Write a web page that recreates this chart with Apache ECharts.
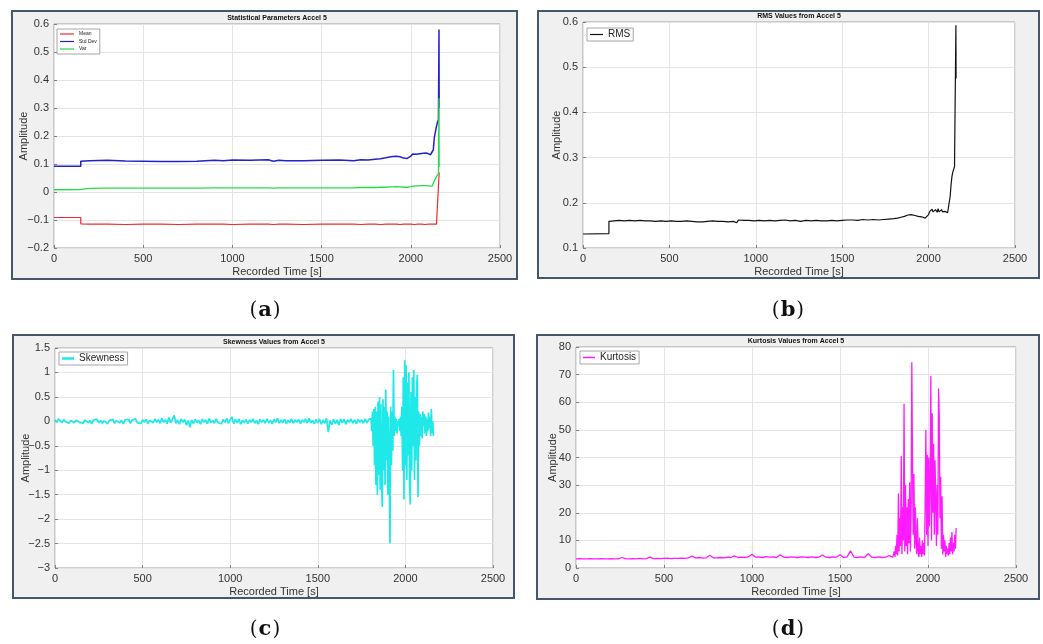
<!DOCTYPE html>
<html>
<head>
<meta charset="utf-8">
<script src="https://cdn.jsdelivr.net/npm/echarts@6/dist/echarts.min.js"></script>
<style>
  html, body { margin: 0; padding: 0; background: #ffffff; }
  #chart { width: 1043px; height: 644px; }
</style>
</head>
<body>
<div id="chart"></div>
<script>
// ---------- Statistical parameters (panel a) ----------
const statTime = [
  0, 150, 150, 200, 300, 400, 500, 600, 700, 800,
  900, 950, 1000, 1100, 1200, 1230, 1260, 1300, 1400, 1500,
  1600, 1680, 1720, 1760, 1800, 1830, 1860, 1880, 1900, 1910,
  1920, 1930, 1940, 1960, 1980, 1990, 2000, 2010, 2020, 2030,
  2040, 2050, 2060, 2070, 2080, 2090, 2100, 2110, 2120, 2126,
  2132, 2138, 2144, 2150, 2155, 2158, 2159
];
const meanVals = [
  -0.091, -0.091, -0.114, -0.115, -0.115, -0.116, -0.115, -0.115, -0.116, -0.115,
  -0.115, -0.115, -0.116, -0.115, -0.115, -0.116, -0.115, -0.115, -0.116, -0.115,
  -0.115, -0.115, -0.116, -0.115, -0.115, -0.116, -0.115, -0.115, -0.115, -0.116,
  -0.115, -0.115, -0.116, -0.115, -0.115, -0.116, -0.115, -0.115, -0.116, -0.115,
  -0.115, -0.116, -0.115, -0.115, -0.116, -0.115, -0.115, -0.116, -0.115, -0.115,
  -0.115, -0.116, -0.115, -0.115, -0.116, -0.115, 0.070
];
const stdVals = [
  0.092, 0.092, 0.110, 0.112, 0.113, 0.111, 0.110, 0.109, 0.109, 0.110,
  0.113, 0.112, 0.114, 0.113, 0.115, 0.110, 0.113, 0.112, 0.112, 0.113,
  0.114, 0.112, 0.115, 0.114, 0.117, 0.119, 0.122, 0.125, 0.127, 0.123,
  0.128, 0.124, 0.126, 0.121, 0.120, 0.124, 0.128, 0.136, 0.139, 0.135,
  0.142, 0.137, 0.143, 0.138, 0.144, 0.139, 0.140, 0.133, 0.134, 0.150,
  0.195, 0.215, 0.235, 0.250, 0.258, 0.580, 0.300
];
const varVals = [
  0.008, 0.009, 0.012, 0.013, 0.014, 0.014, 0.014, 0.014, 0.014, 0.014,
  0.015, 0.015, 0.015, 0.015, 0.015, 0.014, 0.015, 0.015, 0.015, 0.015,
  0.015, 0.015, 0.016, 0.016, 0.016, 0.017, 0.017, 0.018, 0.018, 0.018,
  0.019, 0.018, 0.018, 0.017, 0.017, 0.018, 0.019, 0.021, 0.022, 0.021,
  0.022, 0.021, 0.023, 0.022, 0.023, 0.022, 0.022, 0.020, 0.021, 0.028,
  0.040, 0.047, 0.055, 0.062, 0.066, 0.335, 0.090
];

// ---------- RMS (panel b) ----------
const rmsTime = [
  0, 150, 150, 180, 210, 240, 270, 300, 330, 360,
  390, 420, 450, 480, 510, 540, 570, 600, 630, 660,
  690, 720, 750, 780, 810, 840, 870, 890, 900, 930,
  960, 990, 1020, 1050, 1080, 1110, 1140, 1170, 1200, 1230,
  1260, 1290, 1320, 1350, 1380, 1410, 1440, 1470, 1500, 1530,
  1560, 1590, 1620, 1650, 1680, 1710, 1740, 1770, 1800, 1820,
  1840, 1860, 1870, 1880, 1890, 1900, 1910, 1920, 1930, 1940,
  1950, 1960, 1970, 1980, 1990, 2000, 2005, 2010, 2015, 2020,
  2025, 2030, 2035, 2040, 2045, 2050, 2055, 2060, 2065, 2070,
  2075, 2080, 2085, 2090, 2095, 2100, 2105, 2110, 2115, 2120,
  2125, 2130, 2135, 2140, 2145, 2150, 2155, 2158, 2159
];
const rmsVals = [
  0.131, 0.132, 0.159, 0.160, 0.161, 0.160, 0.161, 0.160, 0.161, 0.160,
  0.160, 0.159, 0.160, 0.159, 0.160, 0.159, 0.159, 0.160, 0.159, 0.158,
  0.158, 0.159, 0.160, 0.159, 0.159, 0.158, 0.159, 0.156, 0.162, 0.161,
  0.161, 0.160, 0.161, 0.160, 0.161, 0.160, 0.161, 0.162, 0.160, 0.161,
  0.159, 0.161, 0.160, 0.161, 0.160, 0.160, 0.161, 0.160, 0.161, 0.162,
  0.162, 0.161, 0.163, 0.162, 0.163, 0.162, 0.163, 0.164, 0.165, 0.166,
  0.168, 0.170, 0.169, 0.173, 0.171, 0.174, 0.170, 0.172, 0.171, 0.170,
  0.168, 0.169, 0.167, 0.166, 0.170, 0.174, 0.180, 0.184, 0.178, 0.186,
  0.180, 0.182, 0.177, 0.185, 0.181, 0.179, 0.187, 0.180, 0.183, 0.178,
  0.185, 0.180, 0.182, 0.177, 0.181, 0.179, 0.183, 0.178, 0.180, 0.177,
  0.215, 0.240, 0.258, 0.268, 0.272, 0.280, 0.282, 0.593, 0.475
];

// ---------- Skewness (panel c): steady run sampled every 10 s, burst every 4 s ----------
const skewSteadyStart = 0, skewSteadyStep = 10;
const skewSteady = [
  0.03, -0.02, 0.05, 0.01, -0.03, 0.04, -0.01, 0.03, -0.04, 0.02,
  0.04, -0.03, 0.02, 0.05, -0.02, 0.01, -0.04, 0.03, 0.00, -0.03,
  0.02, -0.05, 0.03, -0.01, 0.04, -0.03, 0.02, -0.04, 0.01, 0.03,
  -0.05, 0.02, -0.02, 0.04, -0.04, 0.01, 0.03, -0.03, 0.02, -0.05,
  0.03, -0.01, 0.04, -0.04, 0.02, -0.02, 0.05, -0.03, 0.01, -0.04,
  0.03, -0.02, 0.04, -0.05, 0.02, 0.00, -0.03, 0.05, -0.02, 0.03,
  -0.04, 0.06, -0.02, 0.03, -0.05, 0.08, -0.03, 0.04, 0.12, -0.04,
  0.03, -0.06, 0.05, -0.02, 0.04, -0.08, 0.02, -0.12, 0.03, -0.05,
  0.04, -0.03, 0.02, -0.06, 0.05, -0.02, 0.03, -0.05, 0.06, -0.03,
  0.02, -0.04, 0.05, -0.03, 0.01, -0.05, 0.04, -0.02, 0.06, -0.04,
  0.03, 0.09, -0.05, 0.04, -0.03, 0.05, -0.06, 0.02, -0.03, 0.04,
  -0.05, 0.03, -0.02, 0.05, -0.04, 0.02, -0.06, 0.04, -0.02, 0.03,
  -0.04, 0.05, -0.03, 0.02, -0.05, 0.04, -0.02, 0.06, -0.04, 0.03,
  -0.03, 0.04, -0.05, 0.02, -0.03, 0.05, -0.04, 0.03, -0.02, 0.04,
  -0.05, 0.03, -0.02, 0.05, -0.04, 0.06, -0.03, 0.02, -0.05, 0.04,
  -0.03, 0.05, -0.06, 0.03, -0.04, 0.06, -0.22, 0.02, -0.07, 0.04,
  -0.05, 0.03, -0.08, 0.05, -0.03, 0.04, -0.06, 0.03, -0.02, 0.05,
  -0.04, 0.03, -0.05, 0.04, -0.02, 0.03, -0.04, 0.05, -0.03, 0.04,
  0.02
];
const skewBurstStart = 1804, skewBurstStep = 4;
const skewBurst = [
  0.05, -0.2, 0.2, -0.5, 0.25, -0.9, 0.3, -1.3, 0.2, -1.5,
  0.4, -1.1, 0.5, -1.4, 0.35, -1.2, -1.75, 0.45, -1.0, 0.3,
  -1.3, 0.65, -0.8, 0.2, -1.5, 0.1, -1.1, -2.5, 0.3, -0.9,
  0.2, -0.6, 1.05, -0.3, 0.1, -0.2, 0.05, -0.25, 0.0, -0.1,
  0.05, -0.2, 0.1, -0.3, 0.3, -1.0, 0.9, -1.6, 1.25, -0.9,
  1.15, -1.2, 0.8, -0.7, 1.0, -1.3, -1.7, 0.6, -1.0, 0.9,
  -0.5, 1.05, -1.2, 0.5, -0.8, 0.7, 0.95, -1.55, 0.2, -0.5,
  0.15, -0.3, 0.1, -0.35, 0.2, -0.1, 0.15, -0.25, 0.1, -0.3,
  0.05, -0.2, 0.18, -0.15, 0.1, -0.3, 0.25, -0.25, 0.0, -0.3
];

// ---------- Kurtosis (panel d): steady run sampled every 20 s, burst every 4 s ----------
const kurtSteadyStart = 0, kurtSteadyStep = 20;
const kurtSteady = [
  3.3, 3.4, 3.3, 3.3, 3.4, 3.3, 3.3, 3.4, 3.3, 3.3,
  3.4, 3.3, 3.3, 3.8, 3.4, 3.3, 3.4, 3.3, 3.5, 3.3,
  3.4, 3.9, 3.4, 3.5, 3.4, 3.5, 3.6, 3.4, 3.5, 3.5,
  3.6, 3.5, 3.7, 4.3, 3.6, 3.8, 3.6, 3.7, 4.6, 3.7,
  3.7, 3.8, 3.7, 3.9, 3.8, 4.4, 3.8, 3.9, 3.8, 4.0,
  5.0, 3.9, 4.0, 3.8, 4.1, 3.9, 4.0, 3.8, 4.8, 3.9,
  3.8, 4.0, 3.9, 3.8, 4.0, 3.9, 3.8, 4.0, 3.8, 3.9,
  4.7, 3.9, 3.8, 4.0, 3.9, 4.8, 3.8, 4.0, 6.2, 3.9,
  3.8, 4.0, 3.8, 5.2, 3.9, 3.8, 4.0, 3.8, 3.9, 4.5,
  3.9
];
const kurtBurstStart = 1804, kurtBurstStep = 4;
const kurtBurst = [
  4.5, 6, 4, 8, 5, 12, 4.5, 27, 6, 18,
  8, 40.5, 5, 22, 10, 59.5, 6, 30, 8, 22,
  5, 25, 9, 31, 6, 20, 74.5, 37.5, 12, 34,
  7, 22, 10, 5, 18, 6, 4, 11, 5, 8,
  4, 10, 5, 9, 4.5, 24, 50, 12, 41, 8,
  40, 15, 30, 69.5, 10, 56, 20, 45, 12, 39,
  25, 8, 30, 12, 65, 55, 18, 33, 7, 26,
  5, 12, 6, 10, 4, 8, 5, 7, 4.5, 9,
  5, 11, 6, 13, 5, 9, 6, 12, 7, 14.5
];

// ---------- text ----------
const panelTitles = [
  'Statistical Parameters Accel 5',
  'RMS Values from Accel 5',
  'Skewness Values from Accel 5',
  'Kurtosis Values from Accel 5'
];
const panelLetters = ['a', 'b', 'c', 'd'];
const xName = 'Recorded Time [s]';
const yName = 'Amplitude';

// ---------- helpers ----------
const zip = (xs, ys) => xs.map((x, i) => [x, ys[i]]);
const sampled = (start, step, ys) => ys.map((y, i) => [start + i * step, y]);

const FONT = '"Liberation Sans", Arial, Helvetica, sans-serif';
const SERIF = '"DejaVu Serif", "Liberation Serif", serif';
const tickFmt = v => String(+v.toFixed(2)).replace('-', '\u2212');

// plot rectangles and surrounding frames
const grids = [
  { left: 54, top: 24, width: 446, height: 224 },
  { left: 583, top: 22, width: 432, height: 226 },
  { left: 55, top: 348, width: 438, height: 220 },
  { left: 576, top: 347, width: 440, height: 221 }
];
const frames = [
  { x: 12, y: 11, width: 505, height: 268 },
  { x: 538, y: 11, width: 501, height: 267 },
  { x: 13, y: 335, width: 501, height: 263 },
  { x: 537, y: 335, width: 502, height: 264 }
];
const yRanges = [
  { min: -0.2, max: 0.6, interval: 0.1 },
  { min: 0.1, max: 0.6, interval: 0.1 },
  { min: -3, max: 1.5, interval: 0.5 },
  { min: 0, max: 80, interval: 10 }
];
const yNameGaps = [25, 21, 24, 18];
const xNameGaps = [18, 18, 18, 18];

const splitStyle = { show: true, lineStyle: { color: '#e4e4e4', width: 1 } };
const tickStyle = { show: true, inside: true, length: 3, lineStyle: { color: '#808080' } };

const xAxes = grids.map((g, i) => ({
  type: 'value', gridIndex: i, min: 0, max: 2500, interval: 500,
  name: xName, nameLocation: 'middle', nameGap: xNameGaps[i], nameMoveOverlap: false,
  nameTextStyle: { fontFamily: FONT, fontSize: 11, color: '#333' },
  axisLine: { show: false, onZero: false },
  axisTick: tickStyle,
  axisLabel: { fontFamily: FONT, fontSize: 11, color: '#333', margin: 5, formatter: v => String(v) },
  splitLine: splitStyle
}));
const yAxes = grids.map((g, i) => ({
  type: 'value', gridIndex: i,
  min: yRanges[i].min, max: yRanges[i].max, interval: yRanges[i].interval,
  name: yName, nameLocation: 'middle', nameGap: yNameGaps[i], nameMoveOverlap: false,
  nameTextStyle: { fontFamily: FONT, fontSize: 11, color: '#333' },
  axisLine: { show: false, onZero: false },
  axisTick: tickStyle,
  axisLabel: { fontFamily: FONT, fontSize: 11, color: '#333', margin: 5, formatter: tickFmt },
  splitLine: splitStyle
}));

function lineSeries(name, data, idx, color, width) {
  return {
    type: 'line', name, data, xAxisIndex: idx, yAxisIndex: idx,
    symbol: 'none', showSymbol: false, clip: true,
    lineStyle: { color, width }, itemStyle: { color },
    emphasis: { disabled: true }, animation: false
  };
}

const series = [
  lineSeries('Mean', zip(statTime, meanVals), 0, '#f02a2a', 1.2),
  lineSeries('Std Dev', zip(statTime, stdVals), 0, '#2323c8', 1.5),
  lineSeries('Var', zip(statTime, varVals), 0, '#26dc48', 1.3),
  lineSeries('RMS', zip(rmsTime, rmsVals), 1, '#111111', 1.2),
  lineSeries('Skewness',
    sampled(skewSteadyStart, skewSteadyStep, skewSteady)
      .concat(sampled(skewBurstStart, skewBurstStep, skewBurst)), 2, '#1ee8e8', 1.7),
  lineSeries('Kurtosis',
    sampled(kurtSteadyStart, kurtSteadyStep, kurtSteady)
      .concat(sampled(kurtBurstStart, kurtBurstStep, kurtBurst)), 3, '#ff1aff', 1.3)
];

function legendBox(names, left, top, fontSize, itemWidth, itemHeight, itemGap, padding) {
  return {
    data: names, orient: 'vertical', left, top, itemWidth, itemHeight, itemGap, padding,
    icon: 'rect', selectedMode: false,
    backgroundColor: '#ffffff', borderColor: '#a6a6a6', borderWidth: 1, borderRadius: 0,
    textStyle: { fontFamily: FONT, fontSize, color: '#222', lineHeight: fontSize + 1 }
  };
}
const legends = [
  legendBox(['Mean', 'Std Dev', 'Var'], 57, 29, 5, 14, 1.2, 1.5, [2, 3, 2, 3]),
  legendBox(['RMS'], 587, 28, 10, 13, 1.2, 2, [1, 3, 1, 3]),
  legendBox(['Skewness'], 59, 352, 10, 12, 2.5, 2, [1, 3, 1, 3]),
  legendBox(['Kurtosis'], 580, 351, 10, 12, 1.5, 2, [1, 3, 1, 3])
];

const graphics = [];
frames.forEach(f => graphics.push({
  type: 'rect', z: -100, silent: true,
  shape: { x: f.x, y: f.y, width: f.width, height: f.height },
  style: { fill: '#f0f0f0', stroke: '#46566c', lineWidth: 2 }
}));
grids.forEach((g, i) => graphics.push({
  type: 'text', z: 100, silent: true,
  x: g.left + g.width / 2, y: g.top - 6,
  style: {
    text: panelTitles[i], align: 'center', verticalAlign: 'middle',
    font: 'bold 7px ' + FONT, fill: '#111'
  }
}));
// sub-figure captions: "(a)" … "(d)" with a bold letter
const captionPos = [[265, 311], [788, 311], [265, 630], [788, 630]];
captionPos.forEach((p, i) => graphics.push({
  type: 'text', z: 100, silent: true, x: p[0], y: p[1],
  style: {
    text: '({b|' + panelLetters[i] + '})', align: 'center', verticalAlign: 'middle',
    font: '20px ' + SERIF, fill: '#111',
    rich: { b: { fontFamily: SERIF, fontSize: 21, fontWeight: 'bold', fill: '#111', padding: [0, 1, 0, 1] } }
  }
}));

const chart = echarts.init(document.getElementById('chart'), null, { renderer: 'canvas' });
chart.setOption({
  backgroundColor: '#ffffff',
  animation: false,
  grid: grids.map(g => Object.assign({
    show: true, backgroundColor: '#ffffff', borderColor: '#a0a0a0', borderWidth: 1, containLabel: false
  }, g)),
  xAxis: xAxes,
  yAxis: yAxes,
  legend: legends,
  series,
  graphic: graphics
});
</script>
</body>
</html>
